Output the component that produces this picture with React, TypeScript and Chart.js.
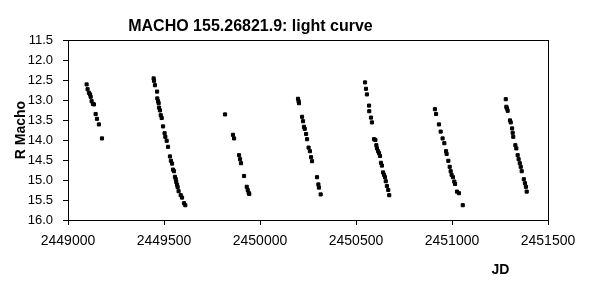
import React, { useEffect, useRef } from "react";
import { Chart, registerables } from "chart.js";

Chart.register(...registerables);

const TITLE = "MACHO 155.26821.9: light curve";
const X_TITLE = "JD";
const Y_TITLE = "R Macho";

const X_TICKS = [2449000, 2449500, 2450000, 2450500, 2451000, 2451500];
const Y_TICKS = [11.5, 12.0, 12.5, 13.0, 13.5, 14.0, 14.5, 15.0, 15.5, 16.0];

// Julian dates of observations
const JD = [
  // season 1
  2449097, 2449102, 2449109, 2449115, 2449118, 2449123, 2449130, 2449135, 2449144, 2449151, 2449161, 2449177,
  // season 2
  2449446, 2449448, 2449453, 2449464, 2449465, 2449469, 2449472, 2449474, 2449479, 2449483, 2449488, 2449495,
  2449503, 2449507, 2449514, 2449521, 2449531, 2449536, 2449542, 2449547, 2449552, 2449557, 2449561, 2449564,
  2449568, 2449571, 2449576, 2449587, 2449594, 2449604, 2449611,
  // season 3
  2449818, 2449859, 2449865, 2449891, 2449896, 2449901, 2449917, 2449931, 2449936, 2449941, 2449944,
  // season 4
  2450198, 2450201, 2450203, 2450219, 2450224, 2450229, 2450233, 2450240, 2450245, 2450253, 2450260, 2450266,
  2450271, 2450297, 2450304, 2450307, 2450316,
  // season 5
  2450547, 2450552, 2450557, 2450568, 2450569, 2450578, 2450583, 2450594, 2450601, 2450606, 2450609, 2450615,
  2450620, 2450625, 2450630, 2450635, 2450641, 2450646, 2450651, 2450655, 2450661, 2450668, 2450673,
  // season 6
  2450911, 2450917, 2450932, 2450941, 2450951, 2450960, 2450969, 2450972, 2450981, 2450988, 2450993, 2450998,
  2451005, 2451012, 2451016, 2451026, 2451036, 2451056,
  // season 7
  2451280, 2451283, 2451286, 2451290, 2451302, 2451306, 2451313, 2451316, 2451319, 2451330, 2451335, 2451342,
  2451347, 2451353, 2451358, 2451363, 2451374, 2451380, 2451385, 2451389,
];

// R magnitudes
const R_MAG = [
  // season 1
  12.61, 12.73, 12.82, 12.86, 12.92, 13.03, 13.10, 13.11, 13.35, 13.47, 13.61, 13.96,
  // season 2
  12.46, 12.52, 12.63, 12.79, 12.96, 13.03, 13.08, 13.19, 13.26, 13.38, 13.45, 13.66,
  13.83, 13.92, 14.02, 14.17, 14.41, 14.52, 14.59, 14.74, 14.78, 14.92, 14.98, 15.05,
  15.12, 15.18, 15.28, 15.38, 15.44, 15.58, 15.63,
  // season 3
  13.36, 13.87, 13.96, 14.38, 14.48, 14.58, 14.90, 15.17, 15.25, 15.32, 15.35,
  // season 4
  12.97, 13.03, 13.08, 13.42, 13.53, 13.67, 13.72, 13.85, 13.98, 14.19, 14.28, 14.43,
  14.53, 14.93, 15.11, 15.19, 15.36,
  // season 5
  12.56, 12.72, 12.86, 13.14, 13.28, 13.44, 13.56, 13.98, 14.00, 14.13, 14.21, 14.28,
  14.33, 14.40, 14.57, 14.64, 14.81, 14.87, 14.93, 15.03, 15.15, 15.25, 15.38,
  // season 6
  13.23, 13.35, 13.61, 13.79, 13.96, 14.08, 14.28, 14.35, 14.52, 14.67, 14.78, 14.87,
  14.93, 15.04, 15.10, 15.29, 15.33, 15.63,
  // season 7
  12.98, 13.17, 13.21, 13.27, 13.51, 13.56, 13.71, 13.82, 13.92, 14.13, 14.21, 14.38,
  14.48, 14.58, 14.67, 14.78, 14.98, 15.08, 15.17, 15.29,
];

const FONT = "'Liberation Sans', Arial, sans-serif";

const textPlugin = {
  id: "textPlugin",
  afterDraw(chart: any) {
    const { ctx, chartArea } = chart;
    ctx.save();
    // frame around plot area
    ctx.strokeStyle = "#000";
    ctx.lineWidth = 1;
    ctx.strokeRect(
      Math.round(chartArea.left) + 0.5,
      Math.round(chartArea.top) + 0.5,
      Math.round(chartArea.right - chartArea.left),
      Math.round(chartArea.bottom - chartArea.top)
    );
    ctx.fillStyle = "#000";
    // chart title
    ctx.font = `bold 16px ${FONT}`;
    ctx.textAlign = "center";
    ctx.textBaseline = "alphabetic";
    ctx.fillText(TITLE, 250.5, 31);
    // x title
    ctx.font = `bold 14px ${FONT}`;
    ctx.fillText(X_TITLE, 500.5, 273.5);
    // y title
    ctx.translate(25, (chartArea.top + chartArea.bottom) / 2);
    ctx.rotate(-Math.PI / 2);
    ctx.fillText(Y_TITLE, 0, 0);
    ctx.restore();
  },
};

export default function App() {
  const ref = useRef<HTMLCanvasElement | null>(null);

  useEffect(() => {
    if (!ref.current) return;
    const points = JD.map((x, i) => ({ x, y: R_MAG[i] }));
    const chart = new Chart(ref.current, {
      type: "scatter",
      data: {
        datasets: [
          {
            label: "R Macho",
            data: points,
            pointStyle: "rect",
            pointRadius: 2.2,
            borderWidth: 1,
            backgroundColor: "#000",
            borderColor: "#000",
          },
        ],
      },
      options: {
        responsive: false,
        animation: false,
        layout: { padding: { top: 40, right: 41, left: 0, bottom: 0 } },
        plugins: {
          legend: { display: false },
          title: { display: false },
          tooltip: { enabled: false },
        },
        scales: {
          x: {
            type: "linear",
            min: X_TICKS[0],
            max: X_TICKS[X_TICKS.length - 1],
            afterBuildTicks: (scale: any) => {
              scale.ticks = X_TICKS.map((v) => ({ value: v }));
            },
            afterFit: (scale: any) => {
              scale.height = 73;
            },
            grid: {
              drawOnChartArea: false,
              drawTicks: true,
              tickLength: 5,
              color: "#000",
            },
            border: { display: true, color: "#000" },
            ticks: {
              color: "#000",
              font: { family: FONT, size: 14 },
              padding: 8,
              maxRotation: 0,
              autoSkip: false,
              callback: (v: any) => String(v),
            },
          },
          y: {
            type: "linear",
            reverse: true,
            min: Y_TICKS[0],
            max: Y_TICKS[Y_TICKS.length - 1],
            afterBuildTicks: (scale: any) => {
              scale.ticks = Y_TICKS.map((v) => ({ value: v }));
            },
            afterFit: (scale: any) => {
              scale.width = 68;
            },
            grid: {
              drawOnChartArea: false,
              drawTicks: true,
              tickLength: 5,
              color: "#000",
            },
            border: { display: true, color: "#000" },
            ticks: {
              color: "#000",
              font: { family: FONT, size: 13 },
              padding: 10,
              autoSkip: false,
              callback: (v: any) => Number(v).toFixed(1),
            },
          },
        },
      },
      plugins: [textPlugin],
    });
    return () => chart.destroy();
  }, []);

  return (
    <div style={{ position: "fixed", left: 0, top: 0, width: 589, height: 293, background: "#fff" }}>
      <canvas ref={ref} width={589} height={293} />
    </div>
  );
}
